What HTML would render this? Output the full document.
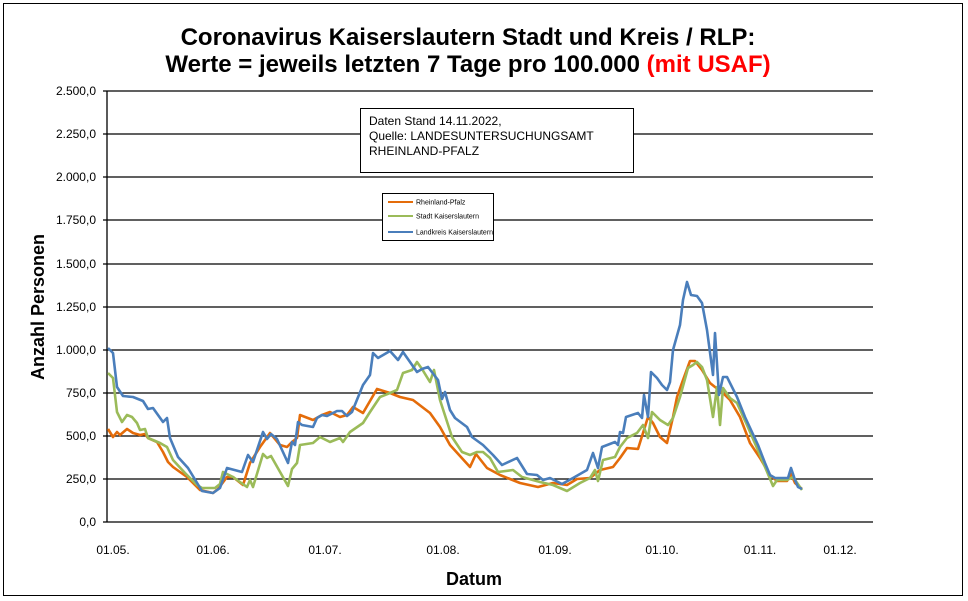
<!DOCTYPE html>
<html><head><meta charset="utf-8"><style>
body{margin:0;background:#fff}
svg{display:block;font-family:"Liberation Sans",Arial,sans-serif}
</style></head><body>
<svg width="968" height="601" viewBox="0 0 968 601" xmlns="http://www.w3.org/2000/svg">
<rect x="3.5" y="3.5" width="959" height="592" fill="#fff" stroke="#000" stroke-width="1"/>
<text x="468" y="45" font-size="24" font-weight="bold" text-anchor="middle">Coronavirus Kaiserslautern Stadt und Kreis / RLP:</text>
<text x="468" y="72" font-size="24" font-weight="bold" text-anchor="middle">Werte = jeweils letzten 7 Tage pro 100.000 <tspan fill="#ff0000">(mit USAF)</tspan></text>
<g stroke="#000" stroke-width="1.3">
<line x1="103" y1="91" x2="873" y2="91"/>
<line x1="103" y1="134" x2="873" y2="134"/>
<line x1="103" y1="177" x2="873" y2="177"/>
<line x1="103" y1="220" x2="873" y2="220"/>
<line x1="103" y1="264" x2="873" y2="264"/>
<line x1="103" y1="307" x2="873" y2="307"/>
<line x1="103" y1="350" x2="873" y2="350"/>
<line x1="103" y1="393" x2="873" y2="393"/>
<line x1="103" y1="436" x2="873" y2="436"/>
<line x1="103" y1="479" x2="873" y2="479"/>
<line x1="103" y1="522" x2="873" y2="522"/>
<line x1="107" y1="91" x2="107" y2="522"/>
</g>
<g font-size="12" text-anchor="end">
<text x="96" y="95">2.500,0</text><text x="96" y="138">2.250,0</text><text x="96" y="181">2.000,0</text>
<text x="96" y="224">1.750,0</text><text x="96" y="268">1.500,0</text><text x="96" y="311">1.250,0</text>
<text x="96" y="354">1.000,0</text><text x="96" y="397">750,0</text><text x="96" y="440">500,0</text>
<text x="96" y="483">250,0</text><text x="96" y="526">0,0</text>
</g>
<g font-size="12" text-anchor="middle">
<text x="113" y="554">01.05.</text><text x="213" y="554">01.06.</text><text x="325" y="554">01.07.</text>
<text x="443" y="554">01.08.</text><text x="555" y="554">01.09.</text><text x="662" y="554">01.10.</text>
<text x="760" y="554">01.11.</text><text x="840" y="554">01.12.</text>
</g>
<text x="474" y="585" font-size="18" font-weight="bold" text-anchor="middle">Datum</text>
<text transform="translate(44,307) rotate(-90)" font-size="18" font-weight="bold" text-anchor="middle">Anzahl Personen</text>
<rect x="360.5" y="108.5" width="273" height="64" fill="#fff" stroke="#000"/>
<text font-size="12"><tspan x="369" y="125">Daten Stand 14.11.2022,</tspan><tspan x="369" y="140">Quelle: LANDESUNTERSUCHUNGSAMT</tspan><tspan x="369" y="155">RHEINLAND-PFALZ</tspan></text>
<rect x="382.5" y="193.5" width="111" height="47" fill="#fff" stroke="#000"/>
<g stroke-width="2"><line x1="388" y1="202" x2="413" y2="202" stroke="#e46c0a"/><line x1="388" y1="216" x2="413" y2="216" stroke="#9bbb59"/><line x1="388" y1="232" x2="413" y2="232" stroke="#4a7ebb"/></g>
<g font-size="7"><text x="416" y="204.5">Rheinland-Pfalz</text><text x="416" y="218.5">Stadt Kaiserslautern</text><text x="416" y="234.5">Landkreis Kaiserslautern</text></g>
<g fill="none" stroke-width="2.6" stroke-linejoin="round">
<polyline stroke="#e46c0a" points="108,429 113,437 117,432 120,435 127,429 133,433 140,435 145,434 148,438 157,442 163,452 168,462 173,467 187,477 200,490 213,493 218,489 227,477 233,477 243,485 250,463 260,447 270,433 280,445 287,447 292,442 297,438 300,415 313,420 322,415 330,412 340,417 347,415 353,407 363,413 377,389 390,393 400,397 413,400 430,413 440,427 450,445 460,456 470,467 476,454 487,468 500,475 520,483 538,487 553,483 567,485 577,479 590,478 600,470 613,467 620,458 627,448 638,449 648,417 653,423 660,437 667,443 673,417 677,397 683,380 690,361 695,361 702,370 710,383 715,387 723,393 730,400 740,417 750,443 760,458 770,475 777,481 787,481 791,474 795,483 802,489"/>
<polyline stroke="#9bbb59" points="108,373 113,378 117,412 122,422 127,415 132,417 137,423 140,430 145,429 148,438 160,443 167,447 173,460 185,473 197,485 202,488 215,488 220,484 223,472 233,477 247,487 250,480 253,487 263,454 267,458 271,456 288,486 292,469 297,463 300,445 313,443 320,437 330,442 340,438 343,442 350,432 363,423 370,412 380,397 390,393 397,390 403,373 412,370 417,362 422,369 430,382 434,370 440,400 452,437 462,452 470,455 477,452 483,452 490,458 498,472 513,470 522,477 540,482 553,485 567,491 580,483 590,478 595,470 598,481 603,460 615,457 620,447 627,438 637,433 643,425 648,438 652,412 660,420 668,425 673,418 680,397 688,368 693,365 697,362 702,367 707,380 713,417 717,387 720,425 723,388 730,398 737,403 747,425 760,455 773,486 777,480 787,480 793,477 802,490"/>
<polyline stroke="#4a7ebb" points="108,348 113,353 117,387 123,396 133,397 143,401 148,409 153,408 163,422 167,418 170,438 178,457 188,468 202,491 213,493 220,488 227,468 242,472 248,455 253,462 263,432 267,439 271,434 277,439 288,463 292,442 295,445 298,422 302,425 313,427 317,418 322,415 327,416 337,411 342,411 347,416 352,412 363,385 370,375 373,353 378,358 390,351 398,360 403,352 417,372 422,369 428,367 438,380 442,399 445,392 450,410 455,418 467,427 472,437 483,445 493,455 502,465 517,458 527,474 537,475 543,480 550,478 562,484 573,478 587,470 593,453 598,468 602,447 615,442 618,445 620,432 623,433 626,417 638,413 642,418 644,395 648,417 651,372 657,378 662,385 667,390 670,382 673,350 680,325 683,300 687,282 691,295 697,296 702,303 707,330 713,375 715,333 719,395 723,377 727,377 737,397 745,417 758,445 765,463 770,475 775,478 788,478 791,468 795,480 798,487 802,489"/>
</g>
</svg>
</body></html>
